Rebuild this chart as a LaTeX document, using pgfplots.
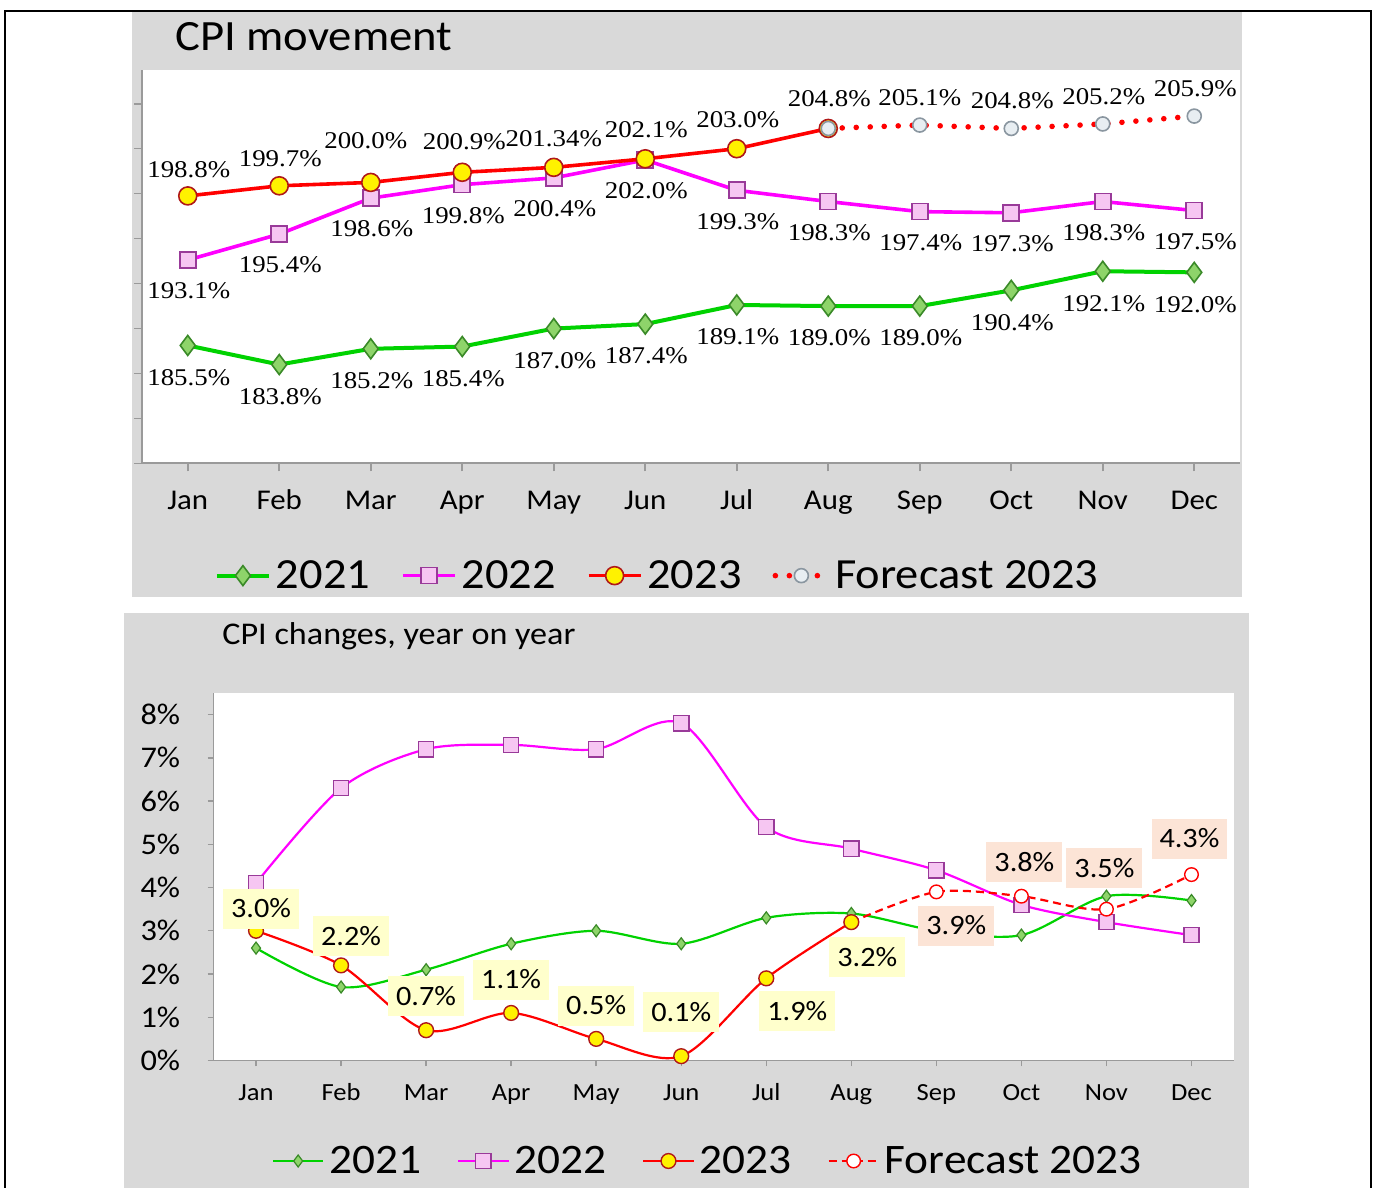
\documentclass[border=0pt]{standalone}
\usepackage{fontspec}
\setmainfont{Carlito}[FakeStretch=1.08]
\newfontfamily\serif{Liberation Serif}[FakeStretch=1.12]
\usepackage{pgfplots}
\pgfplotsset{compat=1.18}
\usepackage{pgfplotstable}

\definecolor{panel}{HTML}{D9D9D9}
\definecolor{axgrey}{HTML}{9A9A9A}
\definecolor{cgreen}{HTML}{00D200}
\definecolor{dgreen}{HTML}{3A8A28}
\definecolor{lgreen}{HTML}{8ED46A}
\definecolor{cmag}{HTML}{FF00FF}
\definecolor{dmag}{HTML}{993A99}
\definecolor{lmag}{HTML}{F6C6F2}
\definecolor{cred}{HTML}{FF0000}
\definecolor{dred}{HTML}{B01818}
\definecolor{cyel}{HTML}{FFF200}
\definecolor{fcfill}{HTML}{E8EEF2}
\definecolor{fcdraw}{HTML}{8A96A0}
\definecolor{lblyel}{HTML}{FFFFCC}
\definecolor{lblpch}{HTML}{FCE4D6}

% ---------- top chart: CPI movement ----------
\pgfplotstableread{
x y dx dy lab
0 185.5 0.5 -16 185.5
1 183.8 0.5 -16 183.8
2 185.2 0.5 -16 185.2
3 185.4 0.5 -16 185.4
4 187.0 0.5 -16 187.0
5 187.4 0.5 -16 187.4
6 189.1 0.5 -16 189.1
7 189.0 0.5 -16 189.0
8 189.0 0.5 -16 189.0
9 190.4 0.5 -16 190.4
10 192.1 0.5 -16 192.1
11 192.0 0.5 -16 192.0
}\tTa
\pgfplotstableread{
x y dx dy lab
0 193.1 0.5 -15.5 193.1
1 195.4 0.5 -15.5 195.4
2 198.6 0.5 -15.5 198.6
3 199.8 0.5 -15.5 199.8
4 200.4 0.5 -15.5 200.4
5 202.0 0.5 -15.5 202.0
6 199.3 0.5 -15.5 199.3
7 198.3 0.5 -15.5 198.3
8 197.4 0.5 -15.5 197.4
9 197.3 0.5 -15.5 197.3
10 198.3 0.5 -15.5 198.3
11 197.5 0.5 -15.5 197.5
}\tTb
\pgfplotstableread{
x y dx dy lab
0 198.8 0.5 13 198.8
1 199.7 0.5 13.5 199.7
2 200.0 -2.5 21 200.0
3 200.9 1 15.5 200.9
4 201.34 0 14.5 201.34
5 202.1 0.5 14.5 202.1
6 203.0 0.5 14.5 203.0
7 204.8 0.5 15 204.8
}\tTc
\pgfplotstableread{
x y dx dy lab
7 204.8 0 0 204.8
8 205.1 0 13.5 205.1
9 204.8 0.5 14 204.8
10 205.2 0.5 13.5 205.2
11 205.9 0.5 13.5 205.9
}\tTf

% ---------- bottom chart: CPI changes ----------
\pgfplotstableread{
x y
0 2.6
1 1.7
2 2.1
3 2.7
4 3.0
5 2.7
6 3.3
7 3.4
8 3.0
9 2.9
10 3.8
11 3.7
}\tBa
\pgfplotstableread{
x y
0 4.1
1 6.3
2 7.2
3 7.3
4 7.2
5 7.8
6 5.4
7 4.9
8 4.4
9 3.6
10 3.2
11 2.9
}\tBb
\pgfplotstableread{
x y dx dy lab
0 3.0 2.5 11 3.0
1 2.2 5 14.5 2.2
2 0.7 0 17 0.7
3 1.1 0 16.5 1.1
4 0.5 0 16.5 0.5
5 0.1 0 22 0.1
6 1.9 15.5 -16.5 1.9
7 3.2 8 -17.5 3.2
}\tBc
\pgfplotstableread{
x y dx dy lab
7 3.2 0 0 3.2
8 3.9 10 -17 3.9
9 3.8 1.5 17 3.8
10 3.5 -1 20.5 3.5
11 4.3 -1 18 4.3
}\tBf

\pgfplotsset{
  lblT/.style={point meta=explicit symbolic, nodes near coords={\pgfplotspointmeta\%},
    visualization depends on={\thisrow{dx}\as\lx},
    visualization depends on={\thisrow{dy}\as\ly},
    every node near coord/.append style={anchor=center, xshift=\lx pt, yshift=\ly pt,
      text=black, inner sep=0pt, font=\serif\fontsize{12}{14}\selectfont}},
  lblB/.style={point meta=explicit symbolic, nodes near coords={\pgfplotspointmeta\%},
    visualization depends on={\thisrow{dx}\as\lx},
    visualization depends on={\thisrow{dy}\as\ly},
    every node near coord/.append style={anchor=center, xshift=\lx pt, yshift=\ly pt,
      text=black, fill=#1, inner xsep=4pt, inner ysep=5.5pt, text height=9pt, text depth=0pt,
      font=\fontsize{14}{16}\selectfont}},
  % top styles
  t21/.style={draw=cgreen, line width=2pt, mark=diamond*, mark size=5pt,
    mark options={fill=lgreen, draw=dgreen, line width=0.8pt, solid}},
  t22/.style={draw=cmag, line width=1.8pt, mark=square*, mark size=4pt,
    mark options={fill=lmag, draw=dmag, line width=0.8pt, solid}},
  t23/.style={draw=cred, line width=1.8pt, mark=*, mark size=4.5pt,
    mark options={fill=cyel, draw=dred, line width=0.8pt, solid}},
  tfc/.style={draw=cred, line width=2.8pt, dash pattern=on 0pt off 7pt, line cap=round,
    mark=*, mark size=3.5pt, mark options={fill=fcfill, draw=fcdraw, line width=0.8pt, solid}},
  % bottom styles
  b21/.style={draw=cgreen, line width=1.1pt, smooth, mark=diamond*, mark size=3pt,
    mark options={fill=lgreen, draw=dgreen, line width=0.6pt, solid}},
  b22/.style={draw=cmag, line width=1.1pt, smooth, mark=square*, mark size=3.8pt,
    mark options={fill=lmag, draw=dmag, line width=0.7pt, solid}},
  b23/.style={draw=cred, line width=1.1pt, smooth, mark=*, mark size=3.7pt,
    mark options={fill=cyel, draw=dred, line width=0.7pt, solid}},
  bfc/.style={draw=cred, line width=1.1pt, smooth, dash pattern=on 4pt off 2.5pt,
    mark=*, mark size=3.4pt, mark options={fill=white, draw=cred, line width=0.7pt, solid}},
}

\begin{document}
\begin{tikzpicture}
\useasboundingbox (0,0) rectangle (688pt,594pt);
\fill[white] (0,0) rectangle (688pt,594pt);
% panels
\fill[panel] (66pt,295.5pt) rectangle (621pt,588pt);
\fill[panel] (62pt,0pt) rectangle (624.5pt,287.5pt);
% frame
\draw[line width=1pt] (2.5pt,0pt) -- (2.5pt,588.5pt) -- (685.5pt,588.5pt) -- (685.5pt,0pt);
% titles
\node[anchor=base west, inner sep=0pt, font=\fontsize{21.6}{25}\selectfont] at (87.5pt,568.5pt) {CPI movement};
\node[anchor=base west, inner sep=0pt, font=\fontsize{15.8}{18}\selectfont] at (111pt,271.5pt) {CPI changes, year on year};

% ================= TOP AXIS =================
\begin{axis}[
  at={(71pt,362.25pt)}, anchor=south west,
  scale only axis, width=549pt, height=196.75pt,
  xmin=-0.5, xmax=11.5, ymin=175, ymax=210,
  axis x line*=bottom, axis y line*=left,
  axis line style={draw=axgrey, line width=1pt},
  axis background/.style={fill=white},
  xtick={0,...,11},
  xticklabels={Jan,Feb,Mar,Apr,May,Jun,Jul,Aug,Sep,Oct,Nov,Dec},
  ytick={175,179,...,207}, yticklabel=\empty,
  tick align=outside, tick style={draw=axgrey, line width=0.8pt},
  major tick length=4pt,
  xticklabel style={font=\fontsize{14.3}{16}\selectfont, anchor=base, inner sep=0pt, yshift=-19pt},
  clip=false,
  legend columns=4,
  legend style={draw=none, fill=none, at={(0.471,-0.285)}, anchor=center,
    font=\fontsize{21.5}{26}\selectfont, inner sep=0pt,
    /tikz/every even column/.append style={column sep=13pt},
    nodes={inner xsep=2.5pt, inner ysep=0pt}},
  legend image code/.code={\draw[mark repeat=2,mark phase=2,#1] plot coordinates {(0pt,0pt) (13pt,0pt) (26pt,0pt)};},
]
\addplot[t21, lblT] table[x=x, y=y, meta=lab] {\tTa};
\addlegendentry{2021}
\addplot[t22, lblT] table[x=x, y=y, meta=lab] {\tTb};
\addlegendentry{2022}
\addplot[t23, lblT] table[x=x, y=y, meta=lab] {\tTc};
\addlegendentry{2023}
\addplot[tfc] table[x=x, y=y] {\tTf};
\addlegendentry{Forecast 2023}
\addplot[forget plot, draw=none, mark=none, restrict x to domain=7.5:11.5, lblT] table[x=x, y=y, meta=lab] {\tTf};
\end{axis}

% ================= BOTTOM AXIS =================
\begin{axis}[
  at={(106.75pt,63.75pt)}, anchor=south west,
  scale only axis, width=510.25pt, height=183.75pt,
  xmin=-0.5, xmax=11.5, ymin=0, ymax=8.5,
  axis x line*=bottom, axis y line*=left,
  axis line style={draw=axgrey, line width=0.8pt},
  axis background/.style={fill=white},
  xtick={0,...,11},
  xticklabels={Jan,Feb,Mar,Apr,May,Jun,Jul,Aug,Sep,Oct,Nov,Dec},
  ytick={0,...,8},
  yticklabels={0\%,1\%,2\%,3\%,4\%,5\%,6\%,7\%,8\%},
  tick align=outside, tick style={draw=axgrey, line width=0.7pt},
  major tick length=3pt,
  xticklabel style={font=\fontsize{12.3}{14}\selectfont, anchor=base, inner sep=0pt, yshift=-17pt},
  yticklabel style={font=\fontsize{15}{17}\selectfont, anchor=east, inner sep=0pt, xshift=-13.5pt},
  clip=false,
  legend columns=4,
  legend style={draw=none, fill=none, at={(0.486,-0.2735)}, anchor=center,
    font=\fontsize{21}{25}\selectfont, inner sep=0pt,
    /tikz/every even column/.append style={column sep=15.5pt},
    nodes={inner xsep=2.5pt, inner ysep=0pt}},
  legend image code/.code={\draw[mark repeat=2,mark phase=2,#1] plot coordinates {(0pt,0pt) (12.5pt,0pt) (25pt,0pt)};},
]
\addplot[b21] table[x=x, y=y] {\tBa};
\addlegendentry{2021}
\addplot[b22] table[x=x, y=y] {\tBb};
\addlegendentry{2022}
\addplot[bfc, forget plot] table[x=x, y=y] {\tBf};
\addplot[b23, lblB=lblyel] table[x=x, y=y, meta=lab] {\tBc};
\addlegendentry{2023}
\addlegendimage{bfc}
\addlegendentry{Forecast 2023}
\addplot[forget plot, draw=none, mark=none, restrict x to domain=7.5:11.5, lblB=lblpch] table[x=x, y=y, meta=lab] {\tBf};
\end{axis}
\end{tikzpicture}
\end{document}
